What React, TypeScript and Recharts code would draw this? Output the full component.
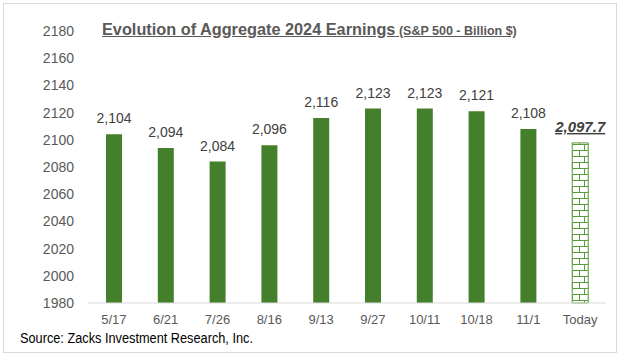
import React from 'react';
import { BarChart, Bar, XAxis, YAxis, LabelList, Cell } from 'recharts';

const dates = ['5/17', '6/21', '7/26', '8/16', '9/13', '9/27', '10/11', '10/18', '11/1', 'Today'];
const earnings = [2104, 2094, 2084, 2096, 2116, 2123, 2123, 2121, 2108, 2097.7];
const yTicks = [1980, 2000, 2020, 2040, 2060, 2080, 2100, 2120, 2140, 2160, 2180];

const data = dates.map((d, i) => ({ name: d, value: earnings[i] }));

const GREEN = '#44802b';
const TEXT = '#595959';

const ValueLabel = (props: any) => {
    const { x, y, width, value, index } = props;
    const last = index === data.length - 1;
    if (last) {
        const txt = value.toLocaleString('en-US', { minimumFractionDigits: 1, maximumFractionDigits: 1 });
        return (
            <text x={x + width / 2} y={y - 11} textAnchor="middle" fontFamily="Arial, Liberation Sans" fontSize={15}
                fontWeight="bold" fontStyle="italic" fill="#404040" textDecoration="underline">{txt}</text>
        );
    }
    return (
        <text x={x + width / 2} y={y - 11} textAnchor="middle" fontFamily="Arial, Liberation Sans" fontSize={14} fill="#404040">
            {value.toLocaleString('en-US')}
        </text>
    );
};

export default function App() {
    return (
        <div style={{ position: 'absolute', left: 0, top: 0, width: 620, height: 354, background: '#fff', fontFamily: 'Arial, Liberation Sans' }}>
            <div style={{ position: 'absolute', left: 3, top: 3, width: 612, height: 348, border: '1px solid #d9d9d9' }} />
            <BarChart width={620} height={354} data={data} margin={{ top: 31, right: 14, bottom: 21, left: 0 }}>
                <defs>
                    <pattern id="brick" width="16" height="12" patternUnits="userSpaceOnUse">
                        <rect width="16" height="12" fill="#fff" />
                        <line x1="0" y1="0.5" x2="16" y2="0.5" stroke="#5a9a3a" strokeWidth="1" />
                        <line x1="0" y1="6.5" x2="16" y2="6.5" stroke="#5a9a3a" strokeWidth="1" />
                        <line x1="8.5" y1="0" x2="8.5" y2="6" stroke="#5a9a3a" strokeWidth="1" />
                        <line x1="3.5" y1="6" x2="3.5" y2="12" stroke="#5a9a3a" strokeWidth="1" />
                        <line x1="12.5" y1="6" x2="12.5" y2="12" stroke="#5a9a3a" strokeWidth="1" />
                    </pattern>
                </defs>
                <XAxis dataKey="name" axisLine={{ stroke: '#d9d9d9' }} tickLine={false}
                    tick={{ fill: TEXT, fontSize: 13, fontFamily: 'Arial, Liberation Sans' }} height={30} tickMargin={6} />
                <YAxis domain={[1980, 2180]} ticks={yTicks} axisLine={false} tickLine={false} width={88}
                    tick={{ fill: TEXT, fontSize: 14, fontFamily: 'Arial, Liberation Sans' }} tickMargin={8} interval={0} />
                <Bar dataKey="value" barSize={16} fill={GREEN} isAnimationActive={false}>
                    {data.map((d, i) => (
                        <Cell key={d.name} fill={i === data.length - 1 ? 'url(#brick)' : GREEN}
                            stroke={i === data.length - 1 ? '#5a9a3a' : 'none'} />
                    ))}
                    <LabelList dataKey="value" content={<ValueLabel />} />
                </Bar>
            </BarChart>
            <div style={{ position: 'absolute', left: 102, top: 20, color: TEXT, fontWeight: 'bold', textDecoration: 'underline', whiteSpace: 'nowrap' }}>
                <span style={{ fontSize: 16.3 }}>Evolution of Aggregate 2024 Earnings</span>
                <span style={{ fontSize: 12.5 }}> (S&amp;P 500 - Billion $)</span>
            </div>
            <div style={{ position: 'absolute', left: 20, top: 330, fontSize: 14, color: '#000', whiteSpace: 'nowrap',
                transform: 'scaleX(0.91)', transformOrigin: 'left center' }}>
                Source: Zacks Investment Research, Inc.
            </div>
        </div>
    );
}
